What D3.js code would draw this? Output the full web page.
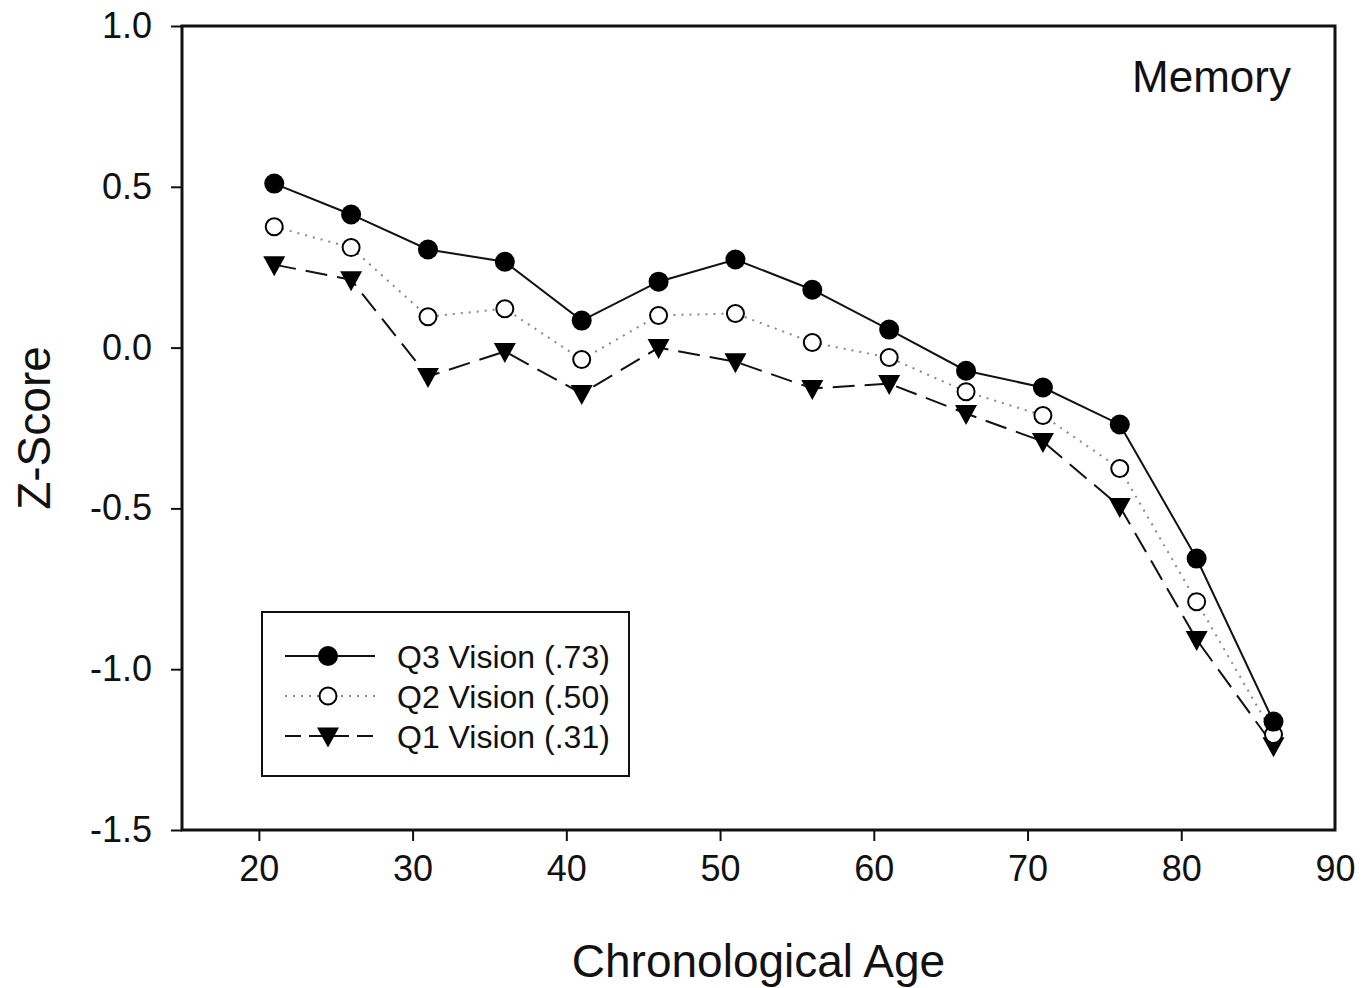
<!DOCTYPE html>
<html>
<head>
<meta charset="utf-8">
<script src="https://cdn.jsdelivr.net/npm/d3@7"></script>
<style>
  body { margin: 0; background: #fff; }
  text { font-family: "Liberation Sans", Arial, sans-serif; fill: #111; }
</style>
</head>
<body>
<svg width="1372" height="988"></svg>
<script>
const ages = [21, 26, 31, 36, 41, 46, 51, 56, 61, 66, 71, 76, 81, 86];
const q3 = [0.51, 0.414, 0.305, 0.267, 0.084, 0.205, 0.274, 0.18, 0.056, -0.072, -0.124, -0.239, -0.656, -1.163];
const q2 = [0.376, 0.311, 0.096, 0.121, -0.037, 0.10, 0.106, 0.016, -0.031, -0.137, -0.211, -0.376, -0.79, -1.203];
const q1 = [0.258, 0.211, -0.09, -0.012, -0.143, 0.0, -0.044, -0.127, -0.112, -0.205, -0.292, -0.494, -0.908, -1.238];
const xTicks = [20, 30, 40, 50, 60, 70, 80, 90];
const yTicks = [1.0, 0.5, 0.0, -0.5, -1.0, -1.5];
const seriesNames = ["Q3 Vision (.73)", "Q2 Vision (.50)", "Q1 Vision (.31)"];

const series = [
  { name: seriesNames[0], values: q3, dash: null, legendDash: null, stroke: "#111", marker: "filled" },
  { name: seriesNames[1], values: q2, dash: "2,6", legendDash: "2,6", stroke: "#888", marker: "open" },
  { name: seriesNames[2], values: q1, dash: "22,10", legendDash: "16,8", stroke: "#111", marker: "tri" }
];

const pLeft = 182, pRight = 1335, pTop = 26, pBottom = 830;

const x = d3.scaleLinear().domain([15, 90]).range([pLeft, pRight]);
const y = d3.scaleLinear().domain([-1.5, 1.0]).range([pBottom, pTop]);

const svg = d3.select("svg");

// frame
svg.append("rect")
  .attr("x", pLeft).attr("y", pTop)
  .attr("width", pRight - pLeft).attr("height", pBottom - pTop)
  .attr("fill", "none").attr("stroke", "#111").attr("stroke-width", 3);

// axes
const fmtY = d => d3.format(".1f")(d).replace("−", "-");
const xAxis = svg.append("g")
  .attr("transform", `translate(0,${pBottom})`)
  .call(d3.axisBottom(x).tickValues(xTicks).tickSize(11).tickPadding(14).tickFormat(d3.format("d")));
const yAxis = svg.append("g")
  .attr("transform", `translate(${pLeft},0)`)
  .call(d3.axisLeft(y).tickValues(yTicks).tickSize(11).tickPadding(19).tickFormat(fmtY));

[xAxis, yAxis].forEach(ax => {
  ax.select(".domain").remove();
  ax.selectAll(".tick line").attr("stroke", "#111").attr("stroke-width", 2);
  ax.selectAll(".tick text").attr("font-size", 36).attr("fill", "#111")
    .attr("font-family", "Liberation Sans, Arial, sans-serif");
});
xAxis.selectAll(".tick line").filter(d => d === 90).remove();

// axis titles
svg.append("text")
  .attr("x", (pLeft + pRight) / 2).attr("y", 977)
  .attr("text-anchor", "middle").attr("font-size", 46)
  .text("Chronological Age");
svg.append("text")
  .attr("transform", `translate(50,${(pTop + pBottom) / 2}) rotate(-90)`)
  .attr("text-anchor", "middle").attr("font-size", 46)
  .text("Z-Score");

svg.append("text")
  .attr("x", 1291).attr("y", 92)
  .attr("text-anchor", "end").attr("font-size", 44)
  .text("Memory");

const line = d3.line().x((d, i) => x(ages[i])).y(d => y(d));

function drawMarker(g, type, cx, cy) {
  if (type === "filled") {
    g.append("circle").attr("cx", cx).attr("cy", cy).attr("r", 10).attr("fill", "#000");
  } else if (type === "open") {
    g.append("circle").attr("cx", cx).attr("cy", cy).attr("r", 8.5)
      .attr("fill", "#fff").attr("stroke", "#000").attr("stroke-width", 2);
  } else {
    const s = 11;
    g.append("path")
      .attr("d", `M${cx - s},${cy - 8.5}L${cx + s},${cy - 8.5}L${cx},${cy + 11.5}Z`)
      .attr("fill", "#000");
  }
}

// draw lines then markers
series.forEach(s => {
  svg.append("path")
    .datum(s.values)
    .attr("d", line)
    .attr("fill", "none")
    .attr("stroke", s.stroke)
    .attr("stroke-width", 2)
    .attr("stroke-dasharray", s.dash);
});
series.slice().reverse().forEach(s => {
  const g = svg.append("g");
  s.values.forEach((v, i) => drawMarker(g, s.marker, x(ages[i]), y(v)));
});

// legend
const lg = svg.append("g");
lg.append("rect")
  .attr("x", 262).attr("y", 612).attr("width", 367).attr("height", 164)
  .attr("fill", "#fff").attr("stroke", "#111").attr("stroke-width", 2);
series.forEach((s, i) => {
  const cy = 656 + i * 40;
  lg.append("line")
    .attr("x1", 285).attr("x2", 375).attr("y1", cy).attr("y2", cy)
    .attr("stroke", s.stroke).attr("stroke-width", 2)
    .attr("stroke-dasharray", s.legendDash);
  drawMarker(lg, s.marker, 328, cy);
  lg.append("text")
    .attr("x", 397).attr("y", cy + 12)
    .attr("font-size", 32)
    .text(s.name);
});
</script>
</body>
</html>
